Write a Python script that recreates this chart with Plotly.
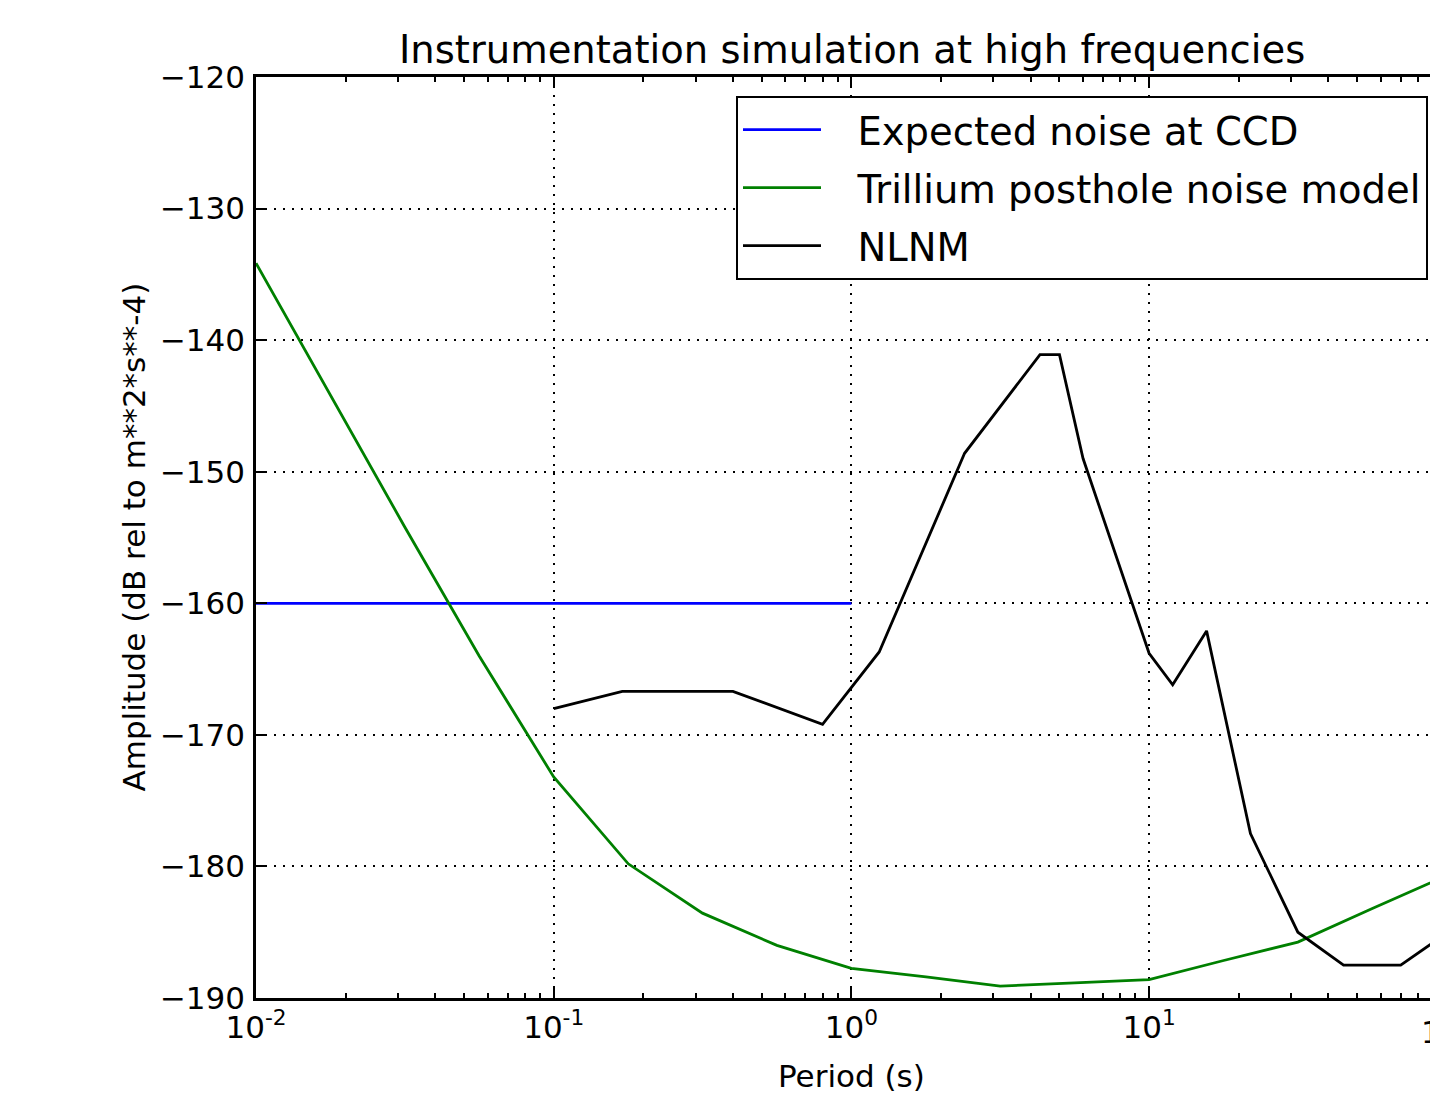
import plotly.graph_objects as go

# ---- data ----
ccd_period = [0.01, 1.0]
ccd_db = [-160.0, -160.0]

trillium_period = [0.01, 0.0178, 0.0316, 0.0562, 0.1, 0.178, 0.316, 0.562, 1.0,
                   1.78, 3.16, 5.62, 10.0, 17.8, 31.6, 56.2, 100.0]
trillium_db = [-134.15, -144.15, -154.2, -164.0, -173.2, -179.8, -183.55, -186.0, -187.75,
               -188.4, -189.1, -188.85, -188.6, -187.15, -185.75, -183.2, -180.7]

nlnm_period = [0.10, 0.17, 0.40, 0.80, 1.24, 2.40, 4.30, 5.00, 6.00, 10.00,
               12.00, 15.60, 21.90, 31.60, 45.00, 70.00, 101.00]
nlnm_db = [-168.0, -166.7, -166.7, -169.2, -163.7, -148.6, -141.1, -141.1, -149.0, -163.8,
           -166.2, -162.1, -177.5, -185.0, -187.5, -187.5, -185.0]

series_names = ["Expected noise at CCD", "Trillium posthole noise model", "NLNM"]

x_tickvals = [0.01, 0.1, 1, 10, 100]
x_ticktext = ["10<sup>-2</sup>", "10<sup>-1</sup>", "10<sup>0</sup>", "10<sup>1</sup>", "10<sup>2</sup>"]
y_tickvals = [-190, -180, -170, -160, -150, -140, -130, -120]

FONT = "DejaVu Sans"

W, H = 1430, 1097
PL, PT, PB = 256, 77, 998  # plot area edges (pixels)
plot_w = W - PL
plot_h = PB - PT
px_per_decade = 297.7
x_right = -2 + plot_w / px_per_decade


def px(x):
    return (x - PL) / plot_w


def py(y):
    return (PB - y) / plot_h


LEAD = "\u2002\u00a0"  # visual gap between legend line sample and label

fig = go.Figure()
fig.add_trace(go.Scatter(x=ccd_period, y=ccd_db, mode="lines", name=LEAD + series_names[0],
                         legendgroup="a", line=dict(color="#0000ff", width=2.8)))
fig.add_trace(go.Scatter(x=trillium_period, y=trillium_db, mode="lines", name=LEAD + series_names[1],
                         legendgroup="b", line=dict(color="#008000", width=2.8)))
fig.add_trace(go.Scatter(x=nlnm_period, y=nlnm_db, mode="lines", name=LEAD + series_names[2],
                         legendgroup="c", line=dict(color="#000000", width=2.8)))

fig.update_layout(
    width=W, height=H,
    margin=dict(l=PL, r=0, t=PT, b=H - PB),
    plot_bgcolor="white", paper_bgcolor="white",
    font=dict(family=FONT, color="black", size=31),
    showlegend=True,
    legend=dict(
        x=px(1428), y=py(96), xanchor="right", yanchor="top",
        bordercolor="black", borderwidth=2, bgcolor="white",
        font=dict(family=FONT, size=38.5, color="black"),
        tracegroupgap=5, itemwidth=78,
    ),
    annotations=[
        dict(text="Instrumentation simulation at high frequencies", xref="paper", yref="paper",
             x=px(852), y=py(50), xanchor="center", yanchor="middle",
             showarrow=False, font=dict(family=FONT, size=38.5, color="black")),
        dict(text="Period (s)", xref="paper", yref="paper",
             x=px(852), y=py(1076), xanchor="center", yanchor="middle",
             showarrow=False, font=dict(family=FONT, size=31, color="black")),
        dict(text="Amplitude (dB rel to m**2*s**-4)", xref="paper", yref="paper",
             x=px(133), y=0.5, xanchor="center", yanchor="middle", textangle=-90,
             showarrow=False, font=dict(family=FONT, size=31, color="black")),
        dict(text="10<sup>2</sup>", xref="paper", yref="paper",
             x=px(1447.7), y=py(1030), xanchor="center", yanchor="middle",
             showarrow=False, font=dict(family=FONT, size=31, color="black")),
    ],
)

fig.update_xaxes(
    type="log", range=[-2, x_right],
    tickmode="array", tickvals=x_tickvals, ticktext=x_ticktext,
    ticks="inside", ticklen=11, tickwidth=1.5, tickcolor="black",
    showline=True, linecolor="black", linewidth=2.5, mirror="ticks",
    showgrid=True, gridcolor="black", gridwidth=1.5, griddash="2px,7px",
    zeroline=False,
    tickfont=dict(family=FONT, size=31, color="black"),
    minor=dict(ticks="inside", ticklen=5, tickwidth=1.5, tickcolor="black", showgrid=False, dtick="D1"),
)
fig.update_yaxes(
    range=[-190, -120], tickmode="array", tickvals=y_tickvals,
    ticks="inside", ticklen=11, tickwidth=1.5, tickcolor="black",
    showline=True, linecolor="black", linewidth=2.5, mirror=False,
    showgrid=True, gridcolor="black", gridwidth=1.5, griddash="2px,7px",
    zeroline=False, ticklabelstandoff=2,
    tickfont=dict(family=FONT, size=31, color="black"),
)

fig.write_html("out.html", config={"displayModeBar": False},
               post_script="document.body.style.margin='0';document.body.style.overflow='hidden';")
